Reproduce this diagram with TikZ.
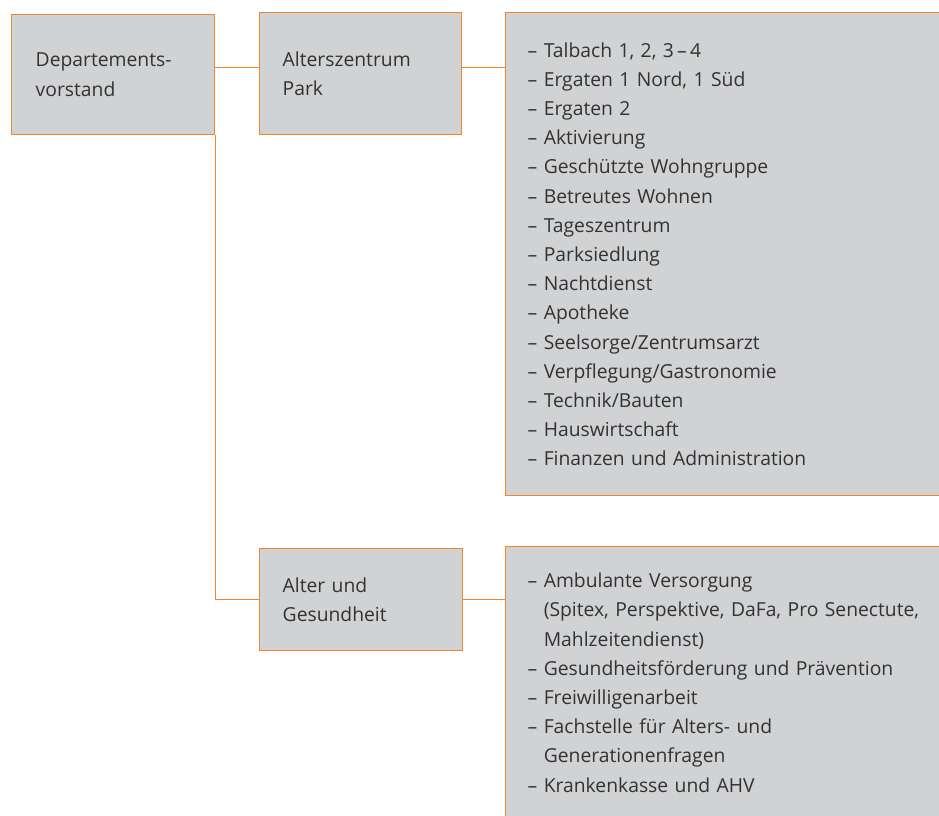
\documentclass[tikz,border=0pt]{standalone}
\usepackage{fontspec}
\setmainfont{Open Sans}
\usetikzlibrary{positioning}

\definecolor{boxgray}{RGB}{209,210,212}
\definecolor{lineorange}{RGB}{242,133,40}
\definecolor{txtgray}{RGB}{50,50,50}

\tikzset{
    unit/.style={draw=lineorange, line width=1.4pt, fill=boxgray, anchor=north west,
        align=left, text=txtgray, inner ysep=0pt, font=\fontsize{19.3}{29.2}\selectfont},
    link/.style={draw=lineorange, line width=1.4pt}
}
\newcommand{\dsh}{–\ }
\newcommand{\nodsh}{\hphantom{–\ }}

\begin{document}
\begin{tikzpicture}[x=1pt,y=-1pt]
    \useasboundingbox (0,0) rectangle (939,815);
    \clip (0,0) rectangle (939,815);

    \node[unit,inner xsep=24pt,text width=155pt,minimum height=120pt] (dv) at (11,14) {Departements-\\vorstand};
    \node[unit,inner xsep=23pt,text width=156pt,minimum height=122pt] (az) at (259,12) {Alterszentrum\\Park};
    \node[unit,inner xsep=23pt,text width=157pt,minimum height=102pt] (ag) at (259,548) {Alter und\\Gesundheit};

    \node[unit,inner xsep=22pt,text width=416pt,minimum height=483pt] (azlist) at (505,12) {%
        \dsh Talbach 1, 2, 3\,–\,4\\
        \dsh Ergaten 1 Nord, 1 Süd\\
        \dsh Ergaten 2\\
        \dsh Aktivierung\\
        \dsh Geschützte Wohngruppe\\
        \dsh Betreutes Wohnen\\
        \dsh Tageszentrum\\
        \dsh Parksiedlung\\
        \dsh Nachtdienst\\
        \dsh Apotheke\\
        \dsh Seelsorge/Zentrumsarzt\\
        \dsh Verpflegung/Gastronomie\\
        \dsh Technik/Bauten\\
        \dsh Hauswirtschaft\\
        \dsh Finanzen und Administration};

    \node[unit,inner xsep=22pt,text width=416pt,minimum height=272pt] (aglist) at (505,546) {%
        \dsh Ambulante Versorgung\\
        \nodsh(Spitex, Perspektive, DaFa, Pro Senectute,\\
        \nodsh Mahlzeitendienst)\\
        \dsh Gesundheitsförderung und Prävention\\
        \dsh Freiwilligenarbeit\\
        \dsh Fachstelle für Alters- und\\
        \nodsh Generationenfragen\\
        \dsh Krankenkasse und AHV};

    \draw[link] ([yshift=7pt]dv.east) -- ([yshift=7pt]dv.east -| az.west);
    \draw[link] ([yshift=6pt]az.east) -- ([yshift=6pt]az.east -| azlist.west);
    \draw[link] (dv.south east) |- (ag.west);
    \draw[link] (ag.east) -- (ag.east -| aglist.west);
\end{tikzpicture}
\end{document}
